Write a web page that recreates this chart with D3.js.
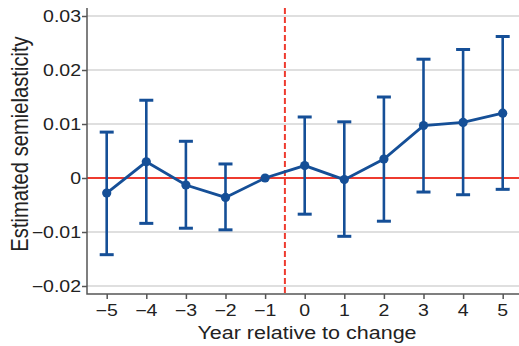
<!DOCTYPE html>
<html>
<head>
<meta charset="utf-8">
<script src="https://cdn.jsdelivr.net/npm/d3@7"></script>
<style>
  body { margin: 0; background: #fff; }
  svg { display: block; font-family: "Liberation Sans", Arial, sans-serif; }
</style>
</head>
<body>
<div id="chart"></div>
<script>
// event-study estimates
var years = [-5, -4, -3, -2, -1, 0, 1, 2, 3, 4, 5];
var estimates = [-0.0028, 0.0030, -0.0013, -0.0036, 0.0, 0.0023, -0.0003, 0.0035, 0.0097, 0.0103, 0.0120];
var upper = [0.0085, 0.0144, 0.0068, 0.0026, null, 0.0113, 0.0104, 0.0150, 0.0220, 0.0238, 0.0262];
var lower = [-0.0142, -0.0084, -0.0093, -0.0096, null, -0.0067, -0.0108, -0.0080, -0.0026, -0.0031, -0.0021];
var yTicks = [-0.02, -0.01, 0, 0.01, 0.02, 0.03];
var changeAt = -0.5;

var width = 519, height = 346;
var blue = "#154f97", red = "#ee3b2f";
var stretch = 1.22; // the source glyphs are wider than they are tall

var svg = d3.select("#chart").append("svg")
    .attr("width", width)
    .attr("height", height);

var x = d3.scaleLinear()
    .domain([-5, 5])
    .range([106.7, 502.7]);

var y = d3.scaleLinear()
    .domain([-0.02, 0.03])
    .range([286, 16]);

var plotLeft = 87, plotBottom = 294, plotTop = 8, plotRight = 519;

function fmtY(d) { return d === 0 ? "0" : d3.format(".2f")(d).replace("-", "\u2212"); }
function fmtX(d) { return String(d).replace("-", "\u2212"); }

// gridlines
svg.append("g")
    .selectAll("line")
    .data(yTicks)
    .enter()
    .append("line")
    .attr("x1", plotLeft)
    .attr("x2", plotRight)
    .attr("y1", function (d) { return y(d); })
    .attr("y2", function (d) { return y(d); })
    .style("stroke", "#d4d4d4")
    .style("stroke-width", 1.5);

// zero line
svg.append("line")
    .attr("x1", plotLeft).attr("x2", plotRight)
    .attr("y1", y(0)).attr("y2", y(0))
    .style("stroke", red)
    .style("stroke-width", 2);

// change marker
svg.append("line")
    .attr("x1", x(changeAt)).attr("x2", x(changeAt))
    .attr("y1", plotTop).attr("y2", plotBottom)
    .style("stroke", red)
    .style("stroke-width", 2)
    .style("stroke-dasharray", "6,3");

// axes (tick marks only, labels drawn below)
var yAxis = svg.append("g")
    .attr("transform", "translate(" + plotLeft + ",0)")
    .call(d3.axisLeft(y).tickValues(yTicks).tickSize(5).tickFormat(""));

var xAxis = svg.append("g")
    .attr("transform", "translate(0," + plotBottom + ")")
    .call(d3.axisBottom(x).tickValues(years).tickSize(5).tickFormat(""));

[xAxis, yAxis].forEach(function (a) {
    a.select(".domain").remove();
    a.selectAll(".tick line").attr("stroke", "#555").attr("stroke-width", 1.5);
});

// tick labels
svg.append("g")
    .selectAll("text")
    .data(yTicks)
    .enter()
    .append("text")
    .attr("transform", function (d) { return "translate(81," + (y(d) + 5.8) + ") scale(" + stretch + ",1)"; })
    .attr("text-anchor", "end")
    .style("font-size", "16px")
    .style("fill", "#222")
    .text(fmtY);

svg.append("g")
    .selectAll("text")
    .data(years)
    .enter()
    .append("text")
    .attr("transform", function (d) { return "translate(" + x(d) + ",316) scale(" + stretch + ",1)"; })
    .attr("text-anchor", "middle")
    .style("font-size", "16px")
    .style("fill", "#222")
    .text(fmtX);

// L-shaped frame
svg.append("path")
    .attr("d", "M" + plotLeft + "," + plotTop + "V" + plotBottom + "H" + plotRight)
    .style("fill", "none")
    .style("stroke", "#555")
    .style("stroke-width", 1.5);

// error bars
var pts = years.map(function (yr, i) {
    return { yr: yr, est: estimates[i], hi: upper[i], lo: lower[i] };
});
var withCI = pts.filter(function (d) { return d.hi !== null; });

var bars = svg.append("g");
bars.selectAll(".ci")
    .data(withCI)
    .enter()
    .append("line")
    .attr("x1", function (d) { return x(d.yr); })
    .attr("x2", function (d) { return x(d.yr); })
    .attr("y1", function (d) { return y(d.hi); })
    .attr("y2", function (d) { return y(d.lo); })
    .style("stroke", blue)
    .style("stroke-width", 2.6);

["hi", "lo"].forEach(function (k) {
    bars.selectAll(".cap-" + k)
        .data(withCI)
        .enter()
        .append("line")
        .attr("x1", function (d) { return x(d.yr) - 7; })
        .attr("x2", function (d) { return x(d.yr) + 7; })
        .attr("y1", function (d) { return y(d[k]); })
        .attr("y2", function (d) { return y(d[k]); })
        .style("stroke", blue)
        .style("stroke-width", 3);
});

// line and points
var line = d3.line()
    .x(function (d) { return x(d.yr); })
    .y(function (d) { return y(d.est); });

svg.append("path")
    .datum(pts)
    .attr("d", line)
    .style("fill", "none")
    .style("stroke", blue)
    .style("stroke-width", 2.8);

svg.selectAll(".dot")
    .data(pts)
    .enter()
    .append("circle")
    .attr("cx", function (d) { return x(d.yr); })
    .attr("cy", function (d) { return y(d.est); })
    .attr("r", 4.6)
    .style("fill", blue);

// axis titles
svg.append("text")
    .attr("transform", "translate(307,339) scale(1.15,1)")
    .attr("text-anchor", "middle")
    .style("font-size", "18.7px")
    .style("fill", "#222")
    .text("Year relative to change");

svg.append("text")
    .attr("transform", "translate(28,144) scale(1.15,1) rotate(-90)")
    .attr("text-anchor", "middle")
    .style("font-size", "20.2px")
    .style("fill", "#222")
    .text("Estimated semielasticity");
</script>
</body>
</html>
